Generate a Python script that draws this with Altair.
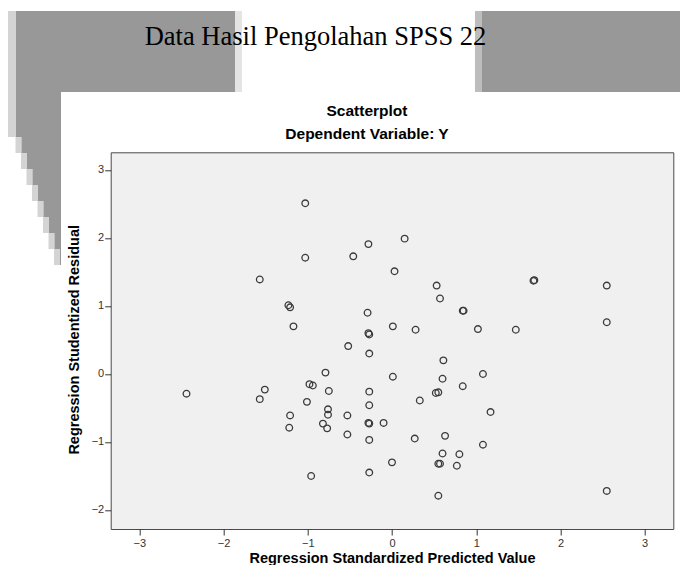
import altair as alt
import pandas as pd

# ---- data ----
pred = [-1.03, -0.28, -0.46, -1.03, -1.57, -1.23, -1.21, -0.29, -1.17, -0.28,
        -0.27, -0.52, 0.15, 0.03, 0.53, 0.57, 1.68, 1.69, 2.55, 0.84,
        0.85, 0.01, 0.28, 1.02, 1.47, 2.55, -0.27, -0.79, -2.44, -1.51,
        -1.57, -0.98, -0.94, -0.75, -0.27, -1.01, -0.27, -0.76, -0.76, -1.21,
        -0.53, -0.28, -0.27, -0.10, -0.82, -1.22, -0.77, -0.53, -0.27, -0.27,
        -0.96, 0.61, 0.01, 0.60, 1.08, 0.84, 0.52, 0.55, 0.33, 1.17,
        0.27, 0.63, 1.08, 0.60, 0.80, 0.00, 0.55, 0.57, 0.77, 0.55, 2.55]
resid = [2.51, 1.91, 1.73, 1.71, 1.39, 1.01, 0.98, 0.90, 0.70, 0.60,
         0.58, 0.41, 1.99, 1.51, 1.30, 1.11, 1.37, 1.38, 1.30, 0.93,
         0.93, 0.70, 0.65, 0.66, 0.65, 0.76, 0.30, 0.02, -0.29, -0.23,
         -0.37, -0.15, -0.17, -0.25, -0.26, -0.41, -0.46, -0.52, -0.60, -0.61,
         -0.61, -0.72, -0.73, -0.72, -0.73, -0.79, -0.80, -0.89, -0.97, -1.45,
         -1.50, 0.20, -0.04, -0.07, 0.00, -0.18, -0.28, -0.27, -0.39, -0.56,
         -0.95, -0.91, -1.04, -1.17, -1.18, -1.30, -1.32, -1.32, -1.35, -1.79, -1.72]
x_ticks = [-3, -2, -1, 0, 1, 2, 3]
y_ticks = [-2, -1, 0, 1, 2, 3]
header = ["Data Hasil Pengolahan SPSS 22"]
chart_title = ["Scatterplot"]
chart_subtitle = ["Dependent Variable: Y"]

df = pd.DataFrame({"pred": pred, "resid": resid})

# plot area in page pixels
PX0, PY0 = 110.7, 152.3
W, H = 562.6, 376.7
one = pd.DataFrame({"d": [0]})

DARK = "#989898"
LIGHT = "#d4d4d4"


def rect(x0, x1, y0, y1, color):
    # page coordinates -> plot coordinates
    return alt.Chart(one).mark_rect(color=color).encode(
        x=alt.value(x0 - PX0), x2=alt.value(x1 - PX0),
        y=alt.value(y0 - PY0), y2=alt.value(y1 - PY0))


deco = [
    rect(8, 16, 11, 137, LIGHT),
    rect(16, 235, 11, 92, DARK),
    rect(235, 242, 11, 92, "#e4e4e4"),
    rect(475, 482, 11, 92, "#bdbdbd"),
    rect(482, 700, 11, 92, DARK),
    rect(16, 61, 92, 137, DARK),
]
for i in range(8):
    y0 = 137 + i * 16
    xl = 16 + (i + 1) * 5.5
    deco.append(rect(xl - 6, xl, y0, y0 + 16, LIGHT))
    deco.append(rect(xl, 61, y0, y0 + 16, DARK))


def label(txt, x, y, size, weight, font):
    return alt.Chart(pd.DataFrame({"t": txt})).mark_text(
        fontSize=size, fontWeight=weight, font=font, color="black",
        align="center", baseline="alphabetic").encode(
        text="t:N", x=alt.value(x - PX0), y=alt.value(y - PY0))


texts = [
    label(header, 315.5, 45, 26.5, "normal", "Liberation Serif"),
    label(chart_title, 367, 115.7, 15.5, "bold", "Liberation Sans"),
    label(chart_subtitle, 367, 139, 15.5, "bold", "Liberation Sans"),
]

points = alt.Chart(df).mark_point(
    shape="circle", filled=False, size=44, stroke="#3a3a3a", strokeWidth=1.3,
    opacity=1).encode(
    x=alt.X("pred:Q", scale=alt.Scale(domain=[-3.34, 3.34], nice=False, zero=False),
            axis=alt.Axis(values=x_ticks, title="Regression Standardized Predicted Value",
                          titleX=281.3, titleY=33, titleBaseline="alphabetic",
                          labelPadding=2)),
    y=alt.Y("resid:Q", scale=alt.Scale(domain=[-2.28, 3.26], nice=False, zero=False),
            axis=alt.Axis(values=y_ticks, title="Regression Studentized Residual",
                          titleX=-36.2, titleY=187, titleAngle=-90,
                          titleBaseline="middle", titleAlign="center",
                          labelPadding=1)),
)

chart = alt.layer(*deco, *texts, points).properties(
    width=W, height=H,
    autosize=alt.AutoSizeParams(type="none"),
    padding={"left": PX0 - 8, "top": PY0 - 8, "right": 680 - PX0 - W,
             "bottom": 565 - PY0 - H},
).configure_view(
    fill="#f0f0f0", stroke="#4a4a4a", strokeWidth=1
).configure_axis(
    domain=False, grid=False, ticks=True, tickSize=6, tickColor="#333333",
    tickWidth=1, labelFont="Liberation Sans", labelFontSize=11, labelColor="#333333",
    titleFont="Liberation Sans", titleFontSize=14.5, titleFontWeight="bold",
    titleColor="black"
)

chart.save("out.html", embed_options={"renderer": "svg", "actions": False})
